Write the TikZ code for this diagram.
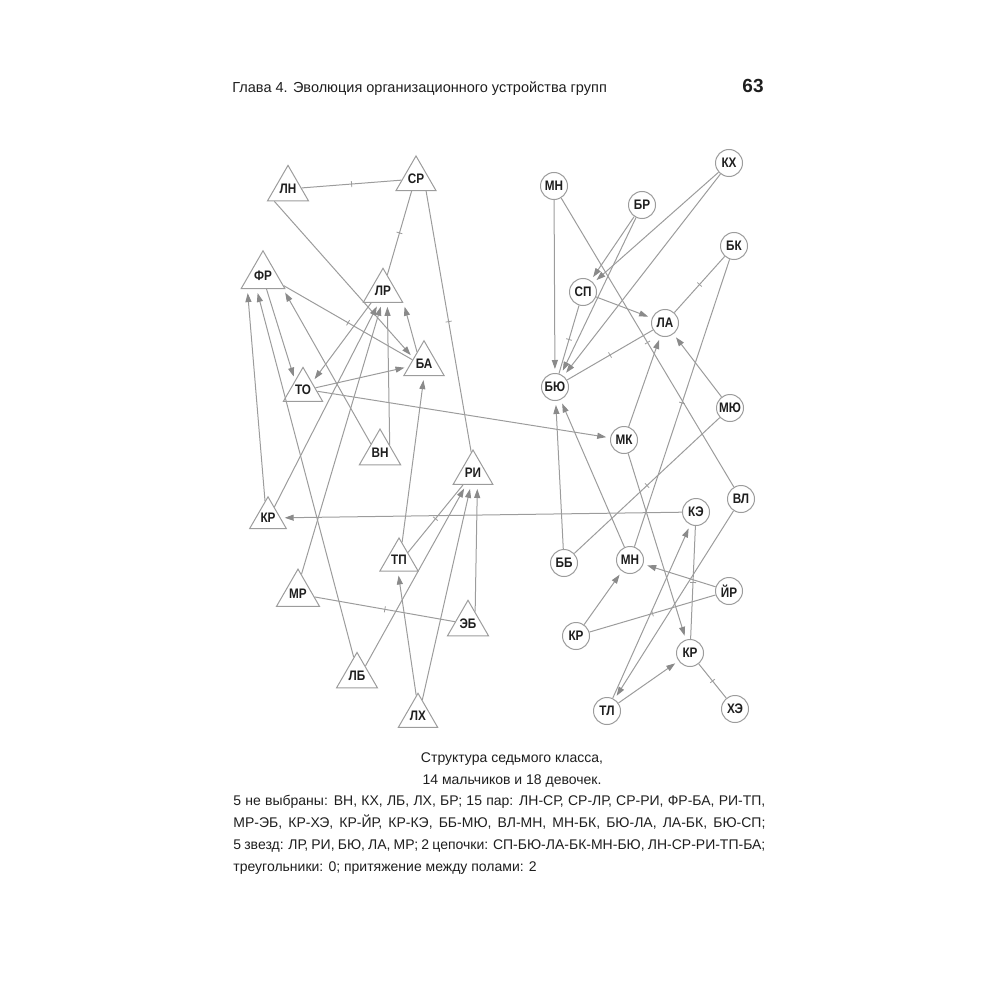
\documentclass[tikz,border=0pt]{standalone}
\usepackage{fontspec}
\setmainfont{Liberation Sans}
\newfontfamily\lblfont[FakeStretch=0.85]{Liberation Sans}
\usetikzlibrary{arrows.meta,shapes.geometric}
\definecolor{sline}{HTML}{9C9C9C}
\definecolor{shead}{HTML}{8A8A8A}
\definecolor{stext}{HTML}{1E1E1E}
\tikzset{
  boy/.style={regular polygon,regular polygon sides=3,draw=sline,line width=0.5pt,minimum size=19.5pt,inner sep=0pt,font=\lblfont\bfseries\fontsize{6.9}{7}\selectfont,text=stext},
  girl/.style={circle,draw=sline,line width=0.5pt,minimum size=13.5pt,inner sep=0pt,font=\lblfont\bfseries\fontsize{6.9}{7}\selectfont,text=stext},
  arr/.style={-{Triangle[length=4.5pt,width=3pt,color=shead]},draw=sline,line width=0.5pt,shorten >=2pt},
  pair/.style={draw=sline,line width=0.5pt},
  notch/.style={rectangle,sloped,draw=sline,line width=0.4pt,minimum width=0pt,minimum height=3pt,inner sep=0pt},
  txt/.style={font=\fontsize{7}{11}\selectfont,text=stext,inner sep=0pt},
}
\begin{document}
\begin{tikzpicture}[x=0.5pt,y=-0.5pt]
  \useasboundingbox (0,0) rectangle (1000,1000);
  \node[txt,anchor=base west,font=\fontsize{7.25}{9}\selectfont] (head) at (232,93) {Глава 4. Эволюция организационного устройства групп};
  \node[txt,anchor=base east,font=\bfseries\fontsize{9.5}{11}\selectfont] (page) at (764,93) {63};
  % boys
  \node[boy] (ln) at (288,189) {ЛН};
  \node[boy] (sr) at (416,179) {СР};
  \node[boy] (fr) at (263,276) {ФР};
  \node[boy] (lr) at (383,291) {ЛР};
  \node[boy] (ba) at (424,364) {БА};
  \node[boy] (tov) at (303,390) {ТО};
  \node[boy] (vn) at (380,453) {ВН};
  \node[boy] (ri) at (473,473) {РИ};
  \node[boy] (krb) at (268,518) {КР};
  \node[boy] (tp) at (399,560) {ТП};
  \node[boy] (mr) at (298,594) {МР};
  \node[boy] (eb) at (468,624) {ЭБ};
  \node[boy] (lb) at (357,676) {ЛБ};
  \node[boy] (lh) at (418,716) {ЛХ};
  % girls
  \node[girl] (mn) at (554,186) {МН};
  \node[girl] (br) at (642,205) {БР};
  \node[girl] (kh) at (729,163) {КХ};
  \node[girl] (bk) at (734,246) {БК};
  \node[girl] (sp) at (583,292) {СП};
  \node[girl] (la) at (665,323) {ЛА};
  \node[girl] (byu) at (555,387) {БЮ};
  \node[girl] (myu) at (730,408) {МЮ};
  \node[girl] (mk) at (624,440) {МК};
  \node[girl] (vl) at (741,499) {ВЛ};
  \node[girl] (ke) at (696,512) {КЭ};
  \node[girl] (bb) at (564,563) {ББ};
  \node[girl] (mnb) at (630,560) {МН};
  \node[girl] (yr) at (729,591) {ЙР};
  \node[girl] (kra) at (576,636) {КР};
  \node[girl] (krc) at (690,653) {КР};
  \node[girl] (tl) at (607,711) {ТЛ};
  \node[girl] (he) at (735,709) {ХЭ};
  % mutual pairs
  \draw[pair] (ln) -- node[notch]{} (sr);
  \draw[pair] (sr.250) -- node[notch]{} (lr.75);
  \draw[pair] (sr.310) -- node[notch]{} (ri.95);
  \draw[pair] (fr.335) -- node[notch]{} (ba.160);
  \draw[pair] (tp.40) -- node[notch]{} (ri.230);
  \draw[pair] (mr) -- node[notch]{} (eb);
  \draw[pair] (krc) -- node[notch]{} (he);
  \draw[pair] (kra) -- node[notch]{} (yr);
  \draw[pair] (ke) -- node[notch]{} (krc);
  \draw[pair] (bb) -- node[notch]{} (myu);
  \draw[pair] (vl) -- node[notch]{} (mn);
  \draw[pair] (mnb) -- node[notch]{} (bk);
  \draw[pair] (byu) -- node[notch]{} (la);
  \draw[pair] (la) -- node[notch]{} (bk);
  \draw[pair] (byu) -- node[notch]{} (sp);
  % one-way choices
  \draw[arr] (ln.222) -- (ba.151);
  \draw[arr] (fr.285) -- (tov.130);
  \draw[arr] (krb.100) -- (fr.220);
  \draw[arr] (lb.100) -- (fr.244);
  \draw[arr] (vn.135) -- (fr.327);
  \draw[arr] (krb.60) -- (lr.250);
  \draw[arr] (mr.80) -- (lr.265);
  \draw[arr] (vn.40) -- (lr.290);
  \draw[arr] (ba.120) -- (lr.330);
  \draw[arr] (lr.225) -- (tov.40);
  \draw[arr] (tov.10) -- (ba.190);
  \draw[arr] (tov.-5) -- (mk);
  \draw[arr] (tp.80) -- (ba.270);
  \draw[arr] (lh.95) -- (tp.265);
  \draw[arr] (lb.50) -- (ri.240);
  \draw[arr] (lh.75) -- (ri.260);
  \draw[arr] (eb.60) -- (ri.290);
  \draw[arr] (ke) -- (krb);
  \draw[arr] (mn) -- (byu);
  \draw[arr] (br) -- (sp); \draw[arr] (br) -- (byu);
  \draw[arr] (kh) -- (sp); \draw[arr] (kh) -- (byu);
  \draw[arr] (sp) -- (la);
  \draw[arr] (myu) -- (la); \draw[arr] (mk) -- (la);
  \draw[arr] (bb) -- (byu); \draw[arr] (mnb) -- (byu);
  \draw[arr] (mk) -- (krc);
  \draw[arr] (vl) -- (tl);
  \draw[arr] (tl) -- (ke);
  \draw[arr] (yr) -- (mnb);
  \draw[arr] (kra) -- (mnb);
  \draw[arr] (tl) -- (krc);
  % caption
  \node[txt,anchor=base] (cap1) at (512,762) {Структура седьмого класса,};
  \node[txt,anchor=base] (cap2) at (512,784) {14 мальчиков и 18 девочек.};
  \node[txt,anchor=north west,text width=266pt,align=justify] (notes) at (233,795) {5 не выбраны: ВН, КХ, ЛБ, ЛХ, БР; 15 пар: ЛН-СР, СР-ЛР, СР-РИ, ФР-БА, РИ-ТП,\linebreak
    МР-ЭБ, КР-ХЭ, КР-ЙР, КР-КЭ, ББ-МЮ, ВЛ-МН, МН-БК, БЮ-ЛА, ЛА-БК, БЮ-СП;\linebreak
    5 звезд: ЛР, РИ, БЮ, ЛА, МР; 2 цепочки: СП-БЮ-ЛА-БК-МН-БЮ, ЛН-СР-РИ-ТП-БА;\linebreak
    треугольники: 0; притяжение между полами: 2};
\end{tikzpicture}
\end{document}
